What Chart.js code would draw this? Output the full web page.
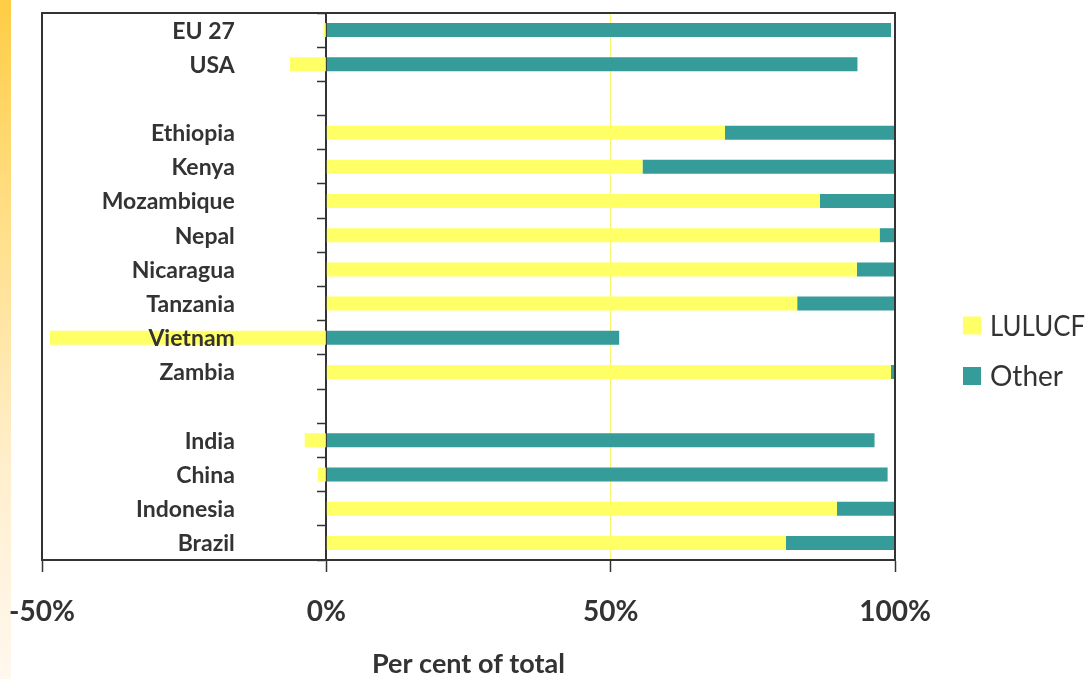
<!DOCTYPE html>
<html>
<head>
<meta charset="utf-8">
<script src="https://cdn.jsdelivr.net/npm/chart.js@4.4.1/dist/chart.umd.min.js"></script>
<style>
  html, body { margin: 0; padding: 0; background: #ffffff; }
  #wrap { position: relative; width: 1087px; height: 679px; overflow: hidden; background: #ffffff; }
  #strip { position: absolute; left: 0; top: 0; width: 11px; height: 679px;
           background: linear-gradient(to bottom, #ffcd45 0%, #ffe08c 35%, #ffefcf 70%, #fff8ee 100%); }
  #c { position: absolute; left: 0; top: 0; }
</style>
</head>
<body>
<div id="wrap">
  <div id="strip"></div>
  <canvas id="c" width="1087" height="679"></canvas>
</div>
<script>
// ---- data ----
const categories = ['EU 27', 'USA', '', 'Ethiopia', 'Kenya', 'Mozambique', 'Nepal', 'Nicaragua',
                    'Tanzania', 'Vietnam', 'Zambia', '', 'India', 'China', 'Indonesia', 'Brazil'];
const lulucfValues = [-0.5, -6.4, null, 70.1, 55.6, 86.8, 97.3, 93.3, 82.8, -48.6, 99.3, null, -3.8, -1.5, 89.8, 80.8];
const otherValues  = [99.3, 93.4, null, 29.9, 44.4, 13.2, 2.7, 6.7, 17.2, 51.5, 0.7, null, 96.4, 98.7, 10.2, 19.2];
const seriesNames = ['LULUCF', 'Other'];
const xTickValues = [-50, 0, 50, 100];
const axisTitle = 'Per cent of total';

const TEXT = '#333333';
const FRAME = '#333333';

// category labels drawn left of the zero axis (on top of bars)
const categoryLabels = {
  id: 'categoryLabels',
  afterDatasetsDraw(chart) {
    const ctx = chart.ctx, xs = chart.scales.x, ys = chart.scales.y;
    const xRight = xs.getPixelForValue(0) - 91.5;
    ctx.save();
    ctx.font = 'bold 23px Lato';
    ctx.fillStyle = TEXT;
    ctx.textAlign = 'right';
    ctx.textBaseline = 'middle';
    chart.data.labels.forEach((lab, i) => {
      if (lab) ctx.fillText(lab, xRight, ys.getPixelForTick(i) + 1);
    });
    ctx.restore();
  }
};

// plot frame (top, left, right)
const frame = {
  id: 'frame',
  afterDatasetsDraw(chart) {
    const {ctx, chartArea: a} = chart;
    ctx.save();
    ctx.strokeStyle = FRAME;
    ctx.lineWidth = 2;
    ctx.beginPath();
    ctx.moveTo(a.left, a.bottom);
    ctx.lineTo(a.left, a.top);
    ctx.lineTo(a.right, a.top);
    ctx.lineTo(a.right, a.bottom);
    ctx.stroke();
    ctx.restore();
  }
};

// legend on the right
const sideLegend = {
  id: 'sideLegend',
  afterDraw(chart) {
    const ctx = chart.ctx;
    ctx.save();
    ctx.font = '28px Lato';
    ctx.textBaseline = 'middle';
    ctx.textAlign = 'left';
    chart.data.datasets.forEach((ds, i) => {
      const cy = 325.5 + i * 50.5;
      ctx.fillStyle = ds.backgroundColor;
      ctx.fillRect(963, cy - 9, 18, 18);
      ctx.fillStyle = TEXT;
      ctx.fillText(ds.label, 990, cy + 1, 95);
    });
    ctx.restore();
  }
};

new Chart(document.getElementById('c'), {
  type: 'bar',
  data: {
    labels: categories,
    datasets: [
      { label: seriesNames[0], data: lulucfValues, backgroundColor: '#ffff66', borderWidth: 0 },
      { label: seriesNames[1], data: otherValues, backgroundColor: '#359c9a', borderWidth: 0 }
    ]
  },
  options: {
    responsive: false,
    animation: false,
    indexAxis: 'y',
    layout: { padding: { left: 42, top: 13, right: 192, bottom: 0 } },
    datasets: { bar: { categoryPercentage: 1.0, barPercentage: 0.41 } },
    plugins: {
      legend: { display: false },
      tooltip: { enabled: false }
    },
    scales: {
      x: {
        type: 'linear',
        stacked: true,
        min: -50,
        max: 100,
        afterBuildTicks: (s) => { s.ticks = xTickValues.map(v => ({ value: v })); },
        afterFit: (s) => { s.paddingLeft = 0; s.paddingRight = 0; s.height = 119; },
        ticks: {
          callback: (v) => v + '%',
          font: { family: 'Lato', weight: 'bold', size: 28 },
          color: TEXT,
          padding: 23,
          maxRotation: 0
        },
        grid: {
          drawOnChartArea: true,
          color: (c) => (c.tick && c.tick.value === 50) ? '#f7f76a' : 'rgba(0,0,0,0)',
          lineWidth: 1,
          tickColor: FRAME,
          tickWidth: 1.5,
          tickLength: 12
        },
        border: { display: true, color: FRAME, width: 2 },
        title: {
          display: true,
          text: axisTitle,
          color: TEXT,
          font: { family: 'Lato', weight: 'bold', size: 27, lineHeight: 1 },
          padding: { top: 0, bottom: 1 }
        }
      },
      y: {
        type: 'category',
        stacked: true,
        position: { x: 0 },
        ticks: { display: false },
        grid: {
          offset: true,
          drawOnChartArea: false,
          drawTicks: true,
          tickLength: 8,
          tickColor: FRAME,
          tickWidth: 1.5
        },
        border: { display: true, color: FRAME, width: 2 }
      }
    }
  },
  plugins: [categoryLabels, frame, sideLegend]
});
</script>
</body>
</html>
